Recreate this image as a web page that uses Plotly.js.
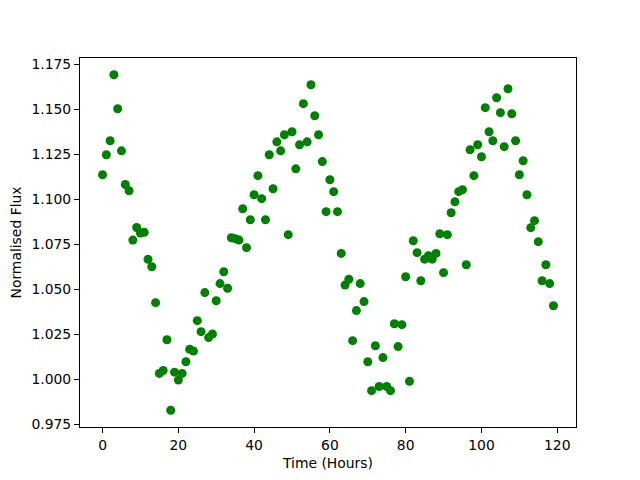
<!DOCTYPE html>
<html>
<head>
<meta charset="utf-8">
<script src="https://cdn.plot.ly/plotly-3.0.1.min.js"></script>
<style>html,body{margin:0;padding:0;background:#fff;}#chart{width:640px;height:480px;}</style>
</head>
<body>
<div id="chart"></div>
<script>
// Time in hours (one sample per hour)
const timeHours = [
  0,1,2,3,4,5,6,7,8,9,10,11,12,13,14,15,16,17,18,19,
  20,21,22,23,24,25,26,27,28,29,30,31,32,33,34,35,36,37,38,39,
  40,41,42,43,44,45,46,47,48,49,50,51,52,53,54,55,56,57,58,59,
  60,61,62,63,64,65,66,67,68,69,70,71,72,73,74,75,76,77,78,79,
  80,81,82,83,84,85,86,87,88,89,90,91,92,93,94,95,96,97,98,99,
  100,101,102,103,104,105,106,107,108,109,110,111,112,113,114,115,116,117,118,119
];
// Normalised flux
const normalisedFlux = [
  1.1137,1.1248,1.1326,1.1693,1.1504,1.1270,1.1083,1.1048,1.0774,1.0844,
  1.0813,1.0817,1.0667,1.0626,1.0426,1.0033,1.0049,1.0220,0.9828,1.0040,
  0.9996,1.0033,1.0098,1.0167,1.0157,1.0326,1.0265,1.0482,1.0232,1.0252,
  1.0437,1.0532,1.0598,1.0506,1.0787,1.0782,1.0774,1.0948,1.0732,1.0887,
  1.1026,1.1132,1.1004,1.0887,1.1248,1.1059,1.1320,1.1270,1.1359,1.0804,
  1.1376,1.1170,1.1304,1.1532,1.1320,1.1637,1.1465,1.1359,1.1210,1.0932,
  1.1109,1.1043,1.0932,1.0700,1.0524,1.0556,1.0215,1.0382,1.0532,1.0432,
  1.0098,0.9937,1.0187,0.9960,1.0121,0.9960,0.9937,1.0309,1.0182,1.0304,
  1.0570,0.9989,1.0770,1.0704,1.0548,1.0668,1.0687,1.0668,1.0700,1.0809,
  1.0593,1.0804,1.0926,1.0987,1.1043,1.1054,1.0637,1.1276,1.1132,1.1304,
  1.1237,1.1510,1.1376,1.1326,1.1565,1.1482,1.1293,1.1615,1.1476,1.1326,
  1.1137,1.1215,1.1026,1.0843,1.0882,1.0765,1.0548,1.0637,1.0532,1.0409
];
const xTitle = "Time (Hours)";
const yTitle = "Normalised Flux";

const font = {family: "DejaVu Sans", size: 13.9, color: "#000"};

Plotly.newPlot("chart", [{
  x: timeHours,
  y: normalisedFlux,
  type: "scatter",
  mode: "markers",
  marker: {color: "#008000", size: 9, line: {width: 0}},
  hoverinfo: "none"
}], {
  width: 640, height: 480,
  paper_bgcolor: "#fff", plot_bgcolor: "#fff",
  margin: {l: 80, r: 64, t: 58, b: 53, pad: 0},
  showlegend: false,
  font: font,
  xaxis: {
    range: [-5.95, 124.95], dtick: 20, tick0: 0,
    showgrid: false, zeroline: false,
    showline: true, mirror: true, linecolor: "#000", linewidth: 1,
    ticks: "outside", ticklen: 5, tickwidth: 1, tickcolor: "#000",
    tickfont: font, automargin: false,
    title: {text: xTitle, font: font, standoff: 6}
  },
  yaxis: {
    range: [0.97352, 1.17858], dtick: 0.025, tick0: 0.975, tickformat: ".3f",
    showgrid: false, zeroline: false,
    showline: true, mirror: true, linecolor: "#000", linewidth: 1,
    ticks: "outside", ticklen: 5, tickwidth: 1, tickcolor: "#000",
    tickfont: font, automargin: false,
    title: {text: yTitle, font: font, standoff: 6}
  }
}, {staticPlot: true, displayModeBar: false});
</script>
</body>
</html>
